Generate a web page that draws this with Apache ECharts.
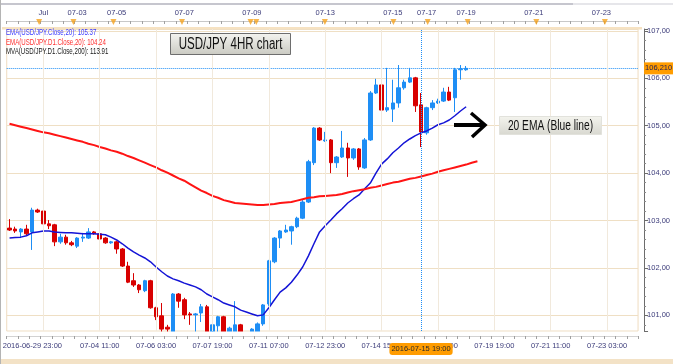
<!DOCTYPE html>
<html>
<head>
<meta charset="utf-8">
<script src="https://cdn.jsdelivr.net/npm/echarts@6/dist/echarts.min.js"></script>
<style>html,body{margin:0;padding:0;background:#fff;}#c{width:673px;height:364px;}</style>
</head>
<body>
<div id="c"></div>
<script>
// ---------- data ----------
const slotCount = 112; // 4-hour slots shown on the x axis (data + empty future)
const opens = [102.84,102.82,102.76,102.82,102.76,103.22,103.20,102.93,102.91,102.55,
  102.65,102.53,102.46,102.63,102.63,102.76,102.72,102.63,102.53,102.55,
  102.40,102.04,101.73,101.64,101.52,101.73,101.16,100.99,100.75,100.60,
  101.45,101.33,101.03,101.01,101.05,101.18,100.45,100.78,100.97,100.40,
  100.50,100.80,100.35,100.45,100.60,100.82,101.24,102.13,102.63,102.76,
  102.78,102.87,103.05,103.39,104.22,104.95,104.68,104.70,104.22,104.34,
  104.53,104.32,104.51,104.11,104.70,105.69,105.86,105.33,105.35,105.48,
  105.80,105.92,106.01,105.44,104.85,105.38,105.48,105.52,105.71,105.59,
  106.18,106.18];
const closes = [102.80,102.78,102.82,102.72,103.22,103.18,102.93,102.89,102.55,102.65,
  102.53,102.49,102.63,102.65,102.76,102.72,102.61,102.53,102.55,102.40,
  102.04,101.70,101.64,101.54,101.73,101.16,100.97,100.71,100.71,101.45,
  101.30,101.01,101.01,101.03,101.18,100.50,100.80,100.97,100.40,100.73,
  100.80,100.30,100.55,100.71,100.82,101.22,102.15,102.63,102.78,102.80,
  102.87,103.05,103.39,104.24,104.95,104.70,104.70,104.22,104.34,104.53,
  104.32,104.51,104.13,104.70,105.69,105.86,105.33,105.38,105.48,105.80,
  105.92,106.01,105.42,104.87,105.38,105.48,105.52,105.71,105.54,106.18,
  106.20,106.21];
const lows = [102.78,102.74,102.63,102.68,102.38,103.16,102.91,102.82,102.46,102.51,
  102.49,102.46,102.42,102.55,102.61,102.70,102.59,102.51,102.51,102.30,
  102.02,101.68,101.60,101.47,101.49,101.14,100.90,100.50,100.50,100.45,
  101.16,100.92,100.80,100.55,100.86,100.40,100.35,100.60,100.20,100.10,
  100.30,100.00,100.10,100.30,100.50,100.78,101.20,102.10,102.42,102.74,
  102.49,102.84,103.03,103.37,104.17,104.68,104.66,104.00,104.11,104.32,
  103.92,104.28,104.07,104.09,104.68,105.67,105.31,105.29,105.08,105.38,
  105.76,105.90,105.29,104.55,104.81,105.33,105.46,105.50,105.52,105.29,
  105.97,106.16];
const highs = [103.03,102.87,102.84,102.91,103.27,103.25,103.41,103.01,102.93,102.72,
  102.70,102.57,102.65,102.74,102.84,102.78,102.74,102.65,102.57,102.57,
  102.42,102.13,101.89,101.66,101.75,101.75,101.18,101.26,100.80,101.47,
  101.47,101.37,101.07,101.05,101.24,101.22,100.82,100.99,100.99,100.76,
  101.30,100.82,100.62,100.73,100.85,101.24,102.17,102.65,102.80,102.91,
  102.89,103.08,103.43,104.28,104.97,104.97,104.87,104.72,104.36,104.89,
  104.64,104.53,104.53,104.74,105.73,105.99,105.88,106.22,105.97,106.28,
  105.97,106.22,106.03,105.69,105.40,105.54,105.57,105.80,105.82,106.22,
  106.28,106.26];
const ema4h = [102.63,102.64,102.65,102.68,102.74,102.76,102.78,102.78,102.76,102.75,
  102.74,102.74,102.73,102.72,102.72,102.72,102.71,102.70,102.65,102.59,
  102.51,102.42,102.34,102.27,102.21,102.13,102.02,101.92,101.83,101.77,
  101.73,101.68,101.64,101.60,101.54,101.45,101.39,101.33,101.26,101.22,
  101.18,101.11,101.07,101.03,100.99,101.01,101.16,101.33,101.49,101.58,
  101.70,101.85,102.02,102.25,102.51,102.76,102.89,103.01,103.14,103.25,
  103.37,103.46,103.54,103.67,103.79,104.00,104.19,104.30,104.43,104.53,
  104.64,104.72,104.79,104.85,104.89,104.95,105.02,105.06,105.12,105.21,
  105.31,105.40];
const emaD1 = [105.04,105.01,104.98,104.95,104.92,104.89,104.86,104.84,104.81,104.78,
  104.75,104.72,104.69,104.66,104.62,104.59,104.55,104.52,104.48,104.45,
  104.41,104.36,104.32,104.27,104.22,104.17,104.12,104.06,104.01,103.95,
  103.89,103.84,103.77,103.70,103.63,103.58,103.52,103.48,103.43,103.40,
  103.37,103.36,103.35,103.34,103.33,103.33,103.34,103.35,103.37,103.38,
  103.39,103.42,103.45,103.48,103.49,103.51,103.52,103.53,103.54,103.56,
  103.59,103.62,103.64,103.66,103.69,103.71,103.74,103.77,103.80,103.82,
  103.85,103.88,103.90,103.93,103.96,103.99,104.03,104.06,104.09,104.12,
  104.15,104.18,104.22,104.25];
const bottomLabelSlots = [6,16,26,36,46,56,66,76,86,96,106];
const bottomLabelTexts = ['2016-06-29 23:00','07-04 11:00','07-06 03:00','07-07 19:00','07-11 07:00',
  '07-12 23:00','07-14 15:00','07-16 07:00','07-19 19:00','07-21 11:00','07-23 03:00'];
const topLabelSlots = [6,12,19,31,43,56,68,74,81,93,105];
const topLabelTexts = ['Jul','07-03','07-05','07-07','07-09','07-13','07-15','07-17','07-19','07-21','07-23'];
const topMarkSlots = [6,12,19,31,43,44,56,68,74,81,93,105];
const lastPrice = 106.21;
const lastPriceLabel = '106,210';
const crossSlot = 73;
const crossLabel = '2016-07-15 19:00';
const legendLines = ['EMA(USD/JPY.Close,20): 105.37','EMA(USD/JPY.D1.Close,20): 104.24','MVA(USD/JPY.D1.Close,200): 113.91'];
const yMin = 100.67, yMax = 107.04;

// ---------- chart ----------
const categories = Array.from({length: slotCount}, (_, i) => String(i));
const bottomMap = {}; bottomLabelSlots.forEach((s, k) => bottomMap[s] = bottomLabelTexts[k]);
const topMap = {}; topLabelSlots.forEach((s, k) => topMap[s] = topLabelTexts[k]);
const FONT = 'Liberation Sans';
const LBL = '#3c3c7a';
const UP = '#1e8ef5', DOWN = '#d80000';

const chart = echarts.init(document.getElementById('c'));
chart.setOption({
  animation: false,
  backgroundColor: '#ffffff',
  grid: [
    {left: 2, right: 31, top: 29, bottom: 33, show: true, borderColor: '#efdcc0', borderWidth: 1, backgroundColor: '#ffffff'},
    {left: 2, right: 31, top: 19, height: 6}
  ],
  xAxis: [
    {
      type: 'category', gridIndex: 0, data: categories, boundaryGap: true, position: 'bottom', offset: 5, z: 10,
      axisLine: {show: true, lineStyle: {color: '#d2d2d2'}},
      axisTick: {show: true, interval: (i) => i % 2 === 0, length: 3, lineStyle: {color: '#a0a0a0'}},
      axisLabel: {
        interval: 0, margin: 6, color: LBL, fontSize: 7.5, fontFamily: FONT,
        formatter: (v, i) => {
          const t = bottomMap[i];
          if (!t) return '';
          return i === bottomLabelSlots[0] ? '{first|' + t + '}' : t;
        },
        rich: {first: {padding: [0, 22, 0, 0], color: LBL, fontSize: 7.5, fontFamily: FONT}}
      },
      splitLine: {show: true, alignWithLabel: true, interval: (i) => bottomMap[i] !== undefined, lineStyle: {color: '#f1e9dc'}},
      axisPointer: {
        show: true, type: 'line', value: crossSlot, status: 'show', snap: false, triggerTooltip: false,
        lineStyle: {color: '#1e8ef5', type: 'dotted', width: 1},
        label: {show: true, backgroundColor: '#ff9c00', color: '#2a2a2a', fontSize: 7.5, fontFamily: FONT,
          padding: [2, 2, 2, 2], margin: 7, formatter: () => crossLabel}
      }
    },
    {
      type: 'category', gridIndex: 0, data: categories, boundaryGap: true, position: 'top', offset: 8,
      axisLine: {show: true, lineStyle: {color: '#c8c8c8'}},
      axisTick: {show: true, inside: true, interval: (i) => i % 2 === 0, length: 3, lineStyle: {color: '#a0a0a0'}},
      axisLabel: {interval: 0, margin: 4, color: LBL, fontSize: 7.5, fontFamily: FONT,
        formatter: (v, i) => topMap[i] || ''},
      splitLine: {show: false}
    },
    {type: 'category', gridIndex: 1, data: categories, boundaryGap: true, show: false}
  ],
  yAxis: [
    {
      type: 'value', gridIndex: 0, position: 'right', offset: 6, min: yMin, max: yMax, splitNumber: 6, scale: true,
      axisLine: {show: true, lineStyle: {color: '#6c6c6c'}},
      axisTick: {show: true, length: 4, lineStyle: {color: '#6c6c6c'}},
      minorTick: {show: true, splitNumber: 5, length: 2, lineStyle: {color: '#8a8a8a'}},
      axisLabel: {color: LBL, fontSize: 7.5, fontFamily: FONT, margin: 3, showMinLabel: false, showMaxLabel: false,
        formatter: (v) => Math.abs(v - Math.round(v)) < 1e-6 ? v.toFixed(2).replace('.', ',') : ''},
      splitLine: {show: true, lineStyle: {color: '#efdfc4'}}
    },
    {type: 'value', gridIndex: 1, min: 0, max: 1, show: false}
  ],
  series: [
    {
      type: 'candlestick', xAxisIndex: 0, yAxisIndex: 0, barWidth: 4, clip: true,
      data: opens.map((o, i) => [o, closes[i], lows[i], highs[i]]),
      itemStyle: {color: UP, color0: DOWN, borderColor: UP, borderColor0: DOWN, borderWidth: 1},
      markLine: {
        silent: true, symbol: ['none', 'none'],
        data: [{yAxis: lastPrice}],
        lineStyle: {color: '#1e8ef5', type: 'dotted', width: 1},
        label: {show: true, position: 'end', distance: 6, formatter: lastPriceLabel, backgroundColor: '#ff9c00',
          color: '#1c1c5a', fontSize: 7.5, fontFamily: FONT, padding: [2, 1, 2, 1]}
      }
    },
    {
      type: 'line', xAxisIndex: 0, yAxisIndex: 0, data: ema4h, symbol: 'none', smooth: false,
      lineStyle: {color: '#1414d6', width: 1.5}
    },
    {
      type: 'line', xAxisIndex: 0, yAxisIndex: 0, data: emaD1, symbol: 'none', smooth: false,
      lineStyle: {color: '#ff1414', width: 2}
    },
    {
      type: 'scatter', xAxisIndex: 2, yAxisIndex: 1, silent: true,
      data: topMarkSlots.map((s) => [s, 0.5]),
      symbol: 'triangle', symbolRotate: 180, symbolSize: [6, 6],
      itemStyle: {color: '#f5a21e'}
    }
  ],
  graphic: [
    // mask: hides the part of the candles that falls below the visible price range
    {type: 'rect', silent: true, z: 5, shape: {x: 1.5, y: 331.5, width: 641, height: 27.5}, style: {fill: '#ffffff'}},
    {type: 'rect', silent: true, shape: {x: 0, y: 3, width: 573, height: 2}, style: {fill: '#c6c6ce'}},
    {type: 'rect', silent: true, shape: {x: 573, y: 3, width: 100, height: 2}, style: {fill: '#e6e6ea'}},
    {type: 'rect', silent: true, shape: {x: 2, y: 27, width: 640, height: 2.5}, style: {fill: '#f6e2c2'}},
    {type: 'rect', silent: true, z: 6, shape: {x: 0, y: 359, width: 673, height: 5}, style: {fill: '#f3e2c6'}},
    {type: 'line', silent: true, z: 6, shape: {x1: 0.5, y1: 0, x2: 0.5, y2: 364}, style: {stroke: '#b4b4b4', lineWidth: 1}},
    {type: 'text', silent: true, z: 100, x: 6, y: 33, scaleX: 0.68,
      style: {text: legendLines[0], fill: '#3a3aff', font: '9px "Liberation Sans"', textVerticalAlign: 'middle'}},
    {type: 'text', silent: true, z: 100, x: 6, y: 43, scaleX: 0.68,
      style: {text: legendLines[1], fill: '#ff3030', font: '9px "Liberation Sans"', textVerticalAlign: 'middle'}},
    {type: 'text', silent: true, z: 100, x: 6, y: 52, scaleX: 0.68,
      style: {text: legendLines[2], fill: '#202020', font: '9px "Liberation Sans"', textVerticalAlign: 'middle'}},
    {type: 'rect', silent: true, z: 100, shape: {x: 170.5, y: 33.5, width: 120, height: 21},
      style: {fill: new echarts.graphic.LinearGradient(0, 0, 0, 1, [{offset: 0, color: '#f4f4f0'}, {offset: 1, color: '#cacac2'}]),
        stroke: '#6e6e6e', lineWidth: 1}},
    {type: 'text', silent: true, z: 101, x: 230.5, y: 44.5, scaleX: 0.72,
      style: {text: 'USD/JPY 4HR chart', fill: '#111', font: '16px "Liberation Sans"', textAlign: 'center', textVerticalAlign: 'middle'}},
    {type: 'rect', silent: true, z: 100, shape: {x: 499.5, y: 116.5, width: 102, height: 18},
      style: {fill: new echarts.graphic.LinearGradient(0, 0, 0, 1, [{offset: 0, color: '#f4f4ee'}, {offset: 1, color: '#d8d8d0'}]),
        stroke: '#e2e2dc', lineWidth: 1}},
    {type: 'text', silent: true, z: 101, x: 550.5, y: 126, scaleX: 0.73,
      style: {text: '20 EMA (Blue line)', fill: '#111', font: '14px "Liberation Sans"', textAlign: 'center', textVerticalAlign: 'middle'}},
    {type: 'line', silent: true, z: 100, shape: {x1: 454, y1: 125, x2: 484, y2: 125}, style: {stroke: '#000', lineWidth: 4}},
    {type: 'polyline', silent: true, z: 100, shape: {points: [[471, 113], [485, 125], [472, 137]]},
      style: {stroke: '#000', lineWidth: 3.5, fill: null}}
  ]
});
</script>
</body>
</html>
